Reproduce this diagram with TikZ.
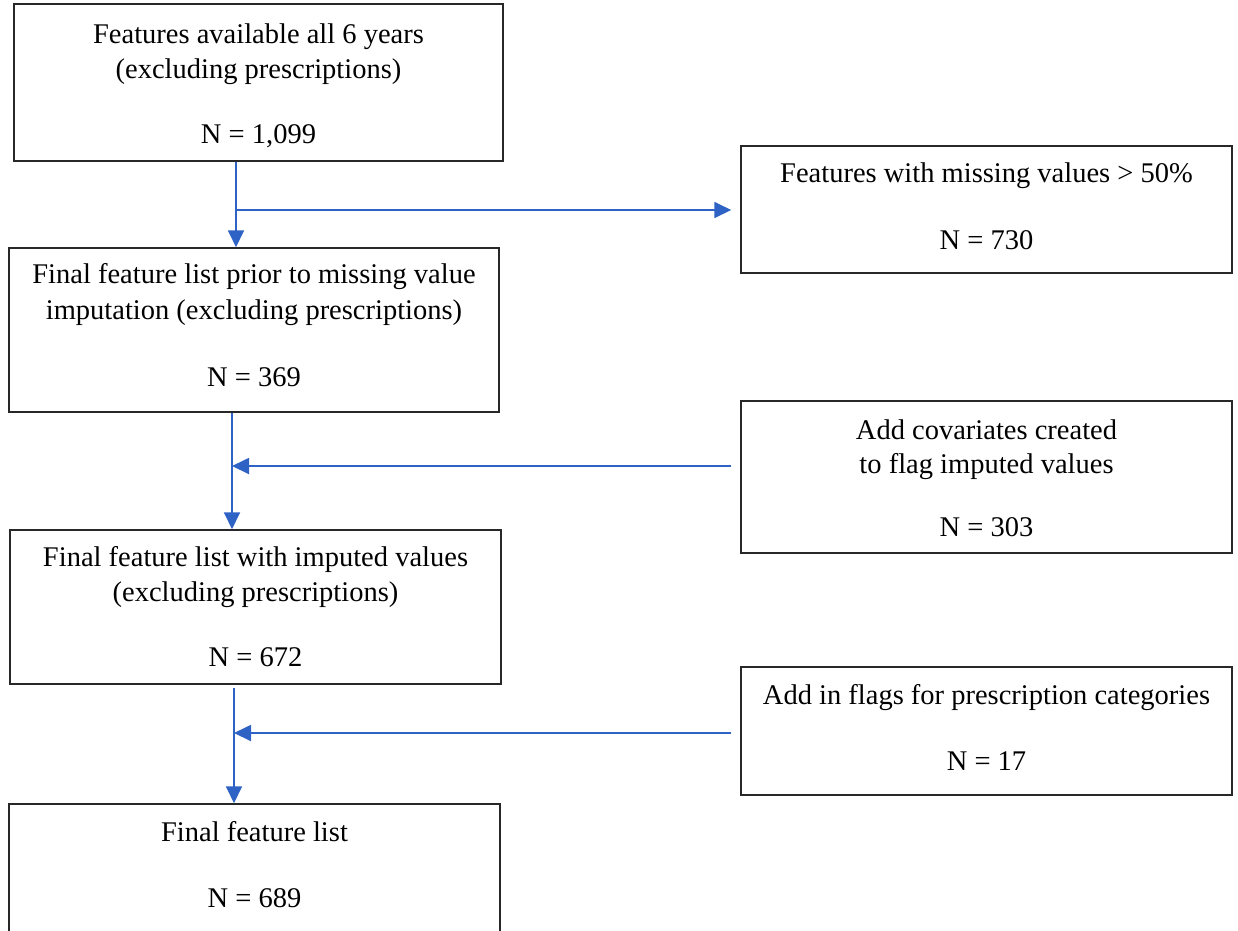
\documentclass[tikz,border=0pt]{standalone}
\usepackage{fontspec}
\setmainfont{Liberation Serif}
\usetikzlibrary{arrows.meta}
\definecolor{flowblue}{RGB}{46,98,196}
\definecolor{boxline}{RGB}{40,40,40}
\tikzset{
  box/.style={draw=boxline, line width=1.5pt, rectangle, inner sep=0pt},
  txt/.style={inner sep=0pt, anchor=base, font=\fontsize{28.5}{34}\selectfont, text=black},
  arr/.style={draw=flowblue, line width=1.8pt, -{Triangle[length=17pt,width=16pt]}},
  ln/.style={draw=flowblue, line width=1.8pt}
}
\begin{document}
\begin{tikzpicture}[x=1pt,y=-1pt]
\useasboundingbox (0,0) rectangle (1238,930);
\clip (0,0) rectangle (1238,930);
% boxes
\node[box, minimum width=489pt, minimum height=157pt] (b1) at (258.5,82.5) {};
\node[box, minimum width=491pt, minimum height=127pt] (b2) at (986.5,209.5) {};
\node[box, minimum width=490pt, minimum height=164pt] (b3) at (254,330) {};
\node[box, minimum width=491pt, minimum height=152pt] (b4) at (986.5,477) {};
\node[box, minimum width=491pt, minimum height=154pt] (b5) at (255.5,607) {};
\node[box, minimum width=491pt, minimum height=128pt] (b6) at (986.5,731) {};
\node[box, minimum width=491pt, minimum height=180pt] (b7) at (254.5,894) {};
% texts
\node[txt] (t1a) at (258.5,43) {Features available all 6 years};
\node[txt] (t1b) at (258.5,78) {(excluding prescriptions)};
\node[txt] (t1c) at (258.5,143) {N = 1,099};
\node[txt] (t2a) at (986.5,182) {Features with missing values > 50\%};
\node[txt] (t2b) at (986.5,249) {N = 730};
\node[txt] (t3a) at (254,283) {Final feature list prior to missing value};
\node[txt] (t3b) at (254,319) {imputation (excluding prescriptions)};
\node[txt] (t3c) at (254,386) {N = 369};
\node[txt] (t4a) at (986.5,439) {Add covariates created};
\node[txt] (t4b) at (986.5,473) {to flag imputed values};
\node[txt] (t4c) at (986.5,536) {N = 303};
\node[txt] (t5a) at (255.5,566) {Final feature list with imputed values};
\node[txt] (t5b) at (255.5,601) {(excluding prescriptions)};
\node[txt] (t5c) at (255.5,666) {N = 672};
\node[txt] (t6a) at (986.5,704) {Add in flags for prescription categories};
\node[txt] (t6b) at (986.5,770) {N = 17};
\node[txt] (t7a) at (254.5,841) {Final feature list};
\node[txt] (t7b) at (254.5,907) {N = 689};
% connectors
\coordinate (j1) at (236,210);
\coordinate (j2) at (232,466);
\coordinate (j3) at (234,733);
\draw[arr] (b1.south -| j1) -- (b3.north -| j1);
\draw[arr, shorten >=9pt] (j1) -- (b2.west |- j1);
\draw[arr] (b3.south -| j2) -- (b5.north -| j2);
\draw[arr, shorten <=9pt] (b4.west |- j2) -- (j2);
\draw[arr, shorten <=3pt] (b5.south -| j3) -- (b7.north -| j3);
\draw[arr, shorten <=9pt] (b6.west |- j3) -- (j3);
\end{tikzpicture}
\end{document}
